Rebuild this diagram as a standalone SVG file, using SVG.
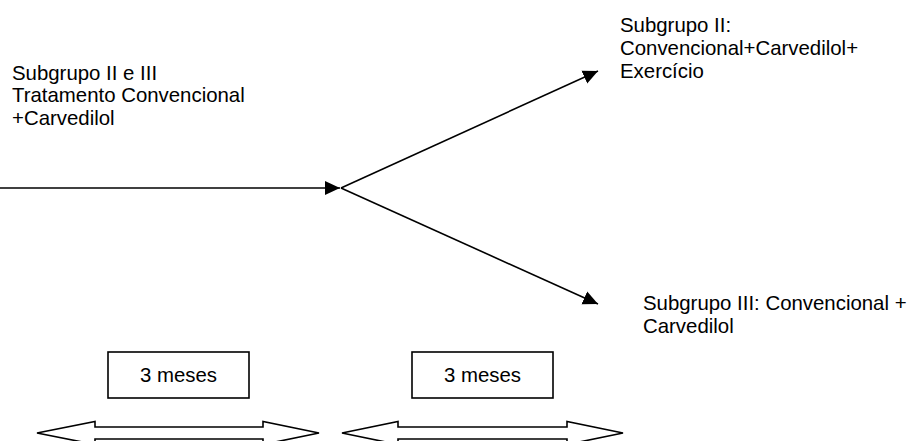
<svg xmlns="http://www.w3.org/2000/svg" width="915" height="441" viewBox="0 0 915 441">
<style>
text{font-family:"Liberation Sans",Arial,sans-serif;font-size:20.4px;fill:#000}
.ln{stroke:#000;stroke-width:1.6;fill:none}
.box{fill:#fff;stroke:#000;stroke-width:1.6}
.blk{fill:#fff;stroke:#000;stroke-width:1.6;stroke-linejoin:miter}
</style>
<defs>
<marker id="ah" markerUnits="userSpaceOnUse" markerWidth="16" markerHeight="16" viewBox="0 0 16 16" refX="15" refY="8" orient="auto">
<path d="M0,1 L15,8 L0,15 Z" fill="#000"/>
</marker>
</defs>
<rect width="915" height="441" fill="#fff"/>
<g id="connectors">
<line class="ln" x1="0" y1="188" x2="340" y2="188" marker-end="url(#ah)"/>
<line class="ln" x1="341" y1="188" x2="598" y2="71" marker-end="url(#ah)"/>
<line class="ln" x1="341" y1="188" x2="598" y2="304" marker-end="url(#ah)"/>
</g>
<g id="start">
<text x="12" y="79.5">Subgrupo II e III</text>
<text x="12" y="102.3">Tratamento Convencional</text>
<text x="12" y="125">+Carvedilol</text>
</g>
<g id="subgrupo2">
<text x="620" y="32">Subgrupo II:</text>
<text x="620" y="55">Convencional+Carvedilol+</text>
<text x="620" y="78">Exercício</text>
</g>
<g id="subgrupo3">
<text x="643" y="310">Subgrupo III: Convencional +</text>
<text x="643" y="333">Carvedilol</text>
</g>
<g id="box1">
<rect class="box" x="108" y="352" width="141" height="46"/>
<text x="178.5" y="382" text-anchor="middle">3 meses</text>
</g>
<g id="box2">
<rect class="box" x="412" y="352" width="141" height="46"/>
<text x="482.5" y="382" text-anchor="middle">3 meses</text>
</g>
<g id="period1">
<polygon class="blk" points="37,433 95,421.5 95,427 263,427 263,421.5 319,433 263,444.5 263,439 95,439 95,444.5"/>
</g>
<g id="period2">
<polygon class="blk" points="342,433 398,421.5 398,427 567,427 567,421.5 623,433 567,444.5 567,439 398,439 398,444.5"/>
</g>
</svg>
